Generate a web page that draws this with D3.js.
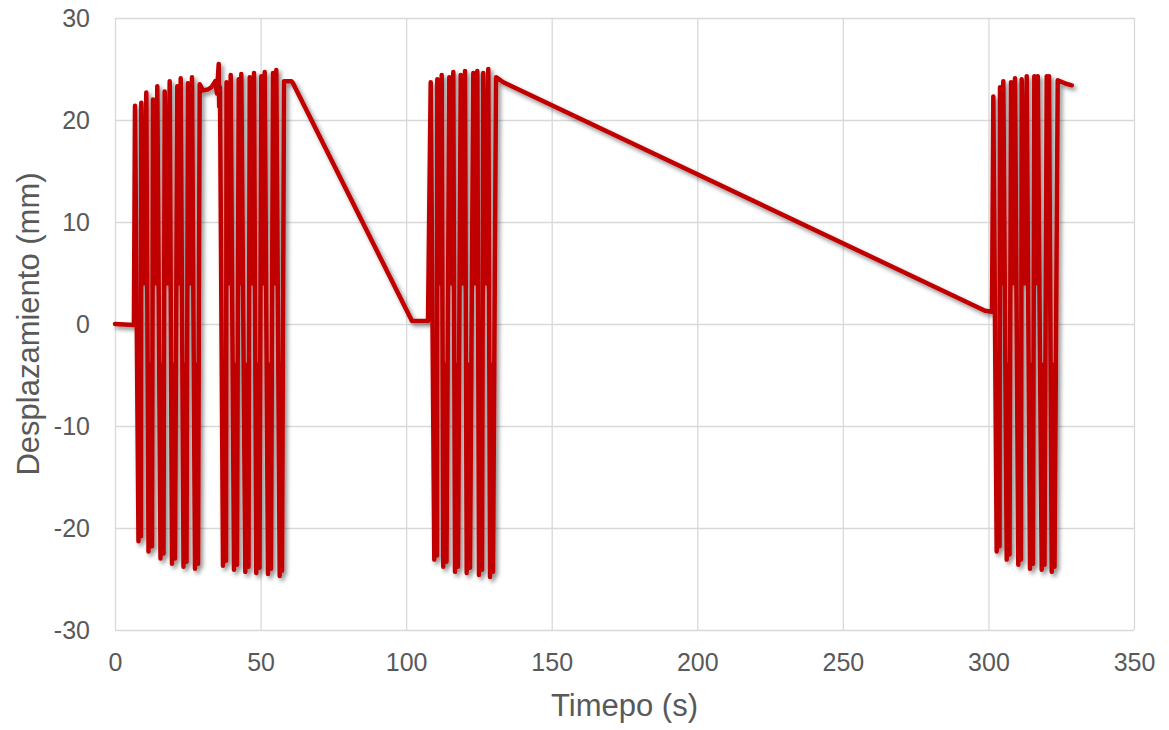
<!DOCTYPE html>
<html lang="es">
<head>
<meta charset="utf-8">
<script src="https://cdn.jsdelivr.net/npm/d3@7/dist/d3.min.js"></script>
<style>
  html, body { margin: 0; padding: 0; background: #ffffff; }
  svg { display: block; }
  .tick text { font-family: "Liberation Sans", Arial, sans-serif; font-size: 25px; fill: #595959; }
  .axis-title { font-family: "Liberation Sans", Arial, sans-serif; font-size: 31px; fill: #595959; }
</style>
</head>
<body>
<svg id="chart" width="1169" height="730"></svg>
<script>
// Ensayo cíclico: desplazamiento (mm) frente al tiempo (s), en cuatro tramos.
// Tramo 1: reposo inicial y primeros ciclos (0–36 s)
const tiempo1 = [0, 6.50, 6.87, 8.07, 8.52, 8.93, 9.03, 9.89, 10.75, 11.51, 12.09, 12.71, 13.05, 13.81, 14.53,
  15.63, 16.14, 16.66, 17.07, 17.93, 18.79, 19.58, 20.09, 20.61, 21.40, 21.98, 22.57, 23.53, 24.04, 24.56,
  25.07, 25.76, 26.45, 27.48, 27.99, 28.51, 29.09, 30.23, 31.94, 33.08, 34.45, 35.03, 35.62, 35.79, 36.06];
const desp1 = [0.0, -0.1, 21.4, -21.3, -4.0, -20.8, 21.7, 4.0, 22.7, -22.3, -4.0, -21.8, 22.0, 4.0, 23.3,
  -23.0, -4.0, -22.5, 22.8, 4.0, 23.8, -23.5, -4.0, -23.0, 23.3, 4.0, 24.1, -23.8, -4.0, -23.3,
  23.6, 4.0, 24.2, -24.0, -4.0, -23.5, 23.5, 22.9, 23.0, 23.2, 23.8, 22.6, 25.5, 21.3, 23.2];

// Tramo 2: segundo bloque de ciclos y descarga lenta (37–108 s)
const tiempo2 = [37.10, 37.61, 38.13, 38.30, 39.02, 39.74, 40.87, 41.39, 41.90, 42.49, 42.93, 43.38,
  44.76, 45.30, 45.85, 46.27, 47.02, 47.74, 48.53, 49.08, 49.63, 50.25, 50.83, 51.42, 52.55, 53.07, 53.58,
  54.27, 54.82, 55.40, 56.57, 57.02, 57.36, 58.05, 60.56, 61.14, 102.01, 107.51];
const desp2 = [-23.7, -4.0, -23.2, 23.7, 4.0, 24.4, -24.1, -4.0, -23.6, 24.0, 4.0, 24.5,
  -24.3, -4.0, -23.8, 24.2, 4.0, 24.6, -24.4, -4.0, -23.9, 24.3, 4.0, 24.7, -24.5, -4.0, -24.0,
  24.6, 4.0, 24.9, -24.7, -4.0, -24.2, 23.8, 23.8, 23.6, 0.3, 0.3];

// Tramo 3: tercer bloque de ciclos y descarga larga (108–301 s)
const tiempo3 = [108.44, 109.67, 110.15, 110.60, 110.70, 111.46, 112.21, 112.76, 113.31, 113.86, 114.82,
  115.51, 116.20, 116.78, 117.30, 117.81, 118.74, 119.46, 120.22, 120.80, 121.35, 121.93, 123.07, 123.75,
  124.44, 125.02, 125.54, 126.06, 126.50, 127.36, 128.22, 128.81, 129.32, 129.84, 130.87, 133.37, 298.83, 301.23];
const desp3 = [23.7, -23.1, -4.0, -22.7, 24.0, 4.0, 24.4, -23.8, -4.0, -23.3, 24.2,
  4.0, 24.7, -24.3, -4.0, -23.8, 24.4, 4.0, 24.8, -24.4, -4.0, -23.9, 24.6, 4.0,
  24.8, -24.6, -4.0, -24.1, 24.6, 4.0, 25.0, -24.8, -4.0, -24.3, 24.2, 23.7, 1.3, 1.2];

// Tramo 4: último bloque de ciclos (301–329 s)
const tiempo4 = [301.68, 302.84, 303.33, 303.81, 303.98, 304.57, 305.11, 306.28, 306.76, 307.24, 307.76,
  308.44, 309.13, 310.26, 310.74, 311.19, 311.43, 312.29, 313.15, 314.28, 314.80, 315.31, 315.76, 316.35,
  316.93, 318.30, 318.78, 319.26, 320.02, 320.43, 320.81, 321.74, 322.22, 322.70, 323.80, 326.30, 328.62];
const desp4 = [22.3, -22.3, -4.0, -21.8, 23.2, 4.0, 23.8, -23.1, -4.0, -22.6, 23.7,
  4.0, 24.1, -23.6, -4.0, -23.1, 24.0, 4.0, 24.3, -24.0, -4.0, -23.5, 24.3, 4.0,
  24.3, -24.1, -4.0, -23.6, 24.3, 4.0, 24.3, -24.3, -4.0, -23.8, 23.9, 23.6, 23.4];

// Marcas de los ejes
const xTicks = [0, 50, 100, 150, 200, 250, 300, 350];
const yTicks = [-30, -20, -10, 0, 10, 20, 30];

const tiempo = [...tiempo1, ...tiempo2, ...tiempo3, ...tiempo4];
const desplazamiento = [...desp1, ...desp2, ...desp3, ...desp4];
const serie = tiempo.map((t, i) => ({ t, d: desplazamiento[i] }));

const margin = { top: 18, right: 35, bottom: 100, left: 115 };
const width = 1169 - margin.left - margin.right;
const height = 730 - margin.top - margin.bottom;

// Etiquetas con guion simple para los negativos
const formato = d => String(d);

const svg = d3.select("#chart");

// Sombra suave bajo la curva
const defs = svg.append("defs");
const shadow = defs.append("filter").attr("id", "sombra")
  .attr("x", "-5%").attr("y", "-5%").attr("width", "110%").attr("height", "110%");
shadow.append("feDropShadow")
  .attr("dx", 2.5).attr("dy", 3).attr("stdDeviation", 2)
  .attr("flood-color", "#000000").attr("flood-opacity", 0.45);

const g = svg.append("g").attr("transform", `translate(${margin.left},${margin.top})`);

const x = d3.scaleLinear().domain([0, 350]).range([0, width]);
const y = d3.scaleLinear().domain([-30, 30]).range([height, 0]);

// Rejilla horizontal y etiquetas del eje Y
const yAxis = g.append("g")
  .call(d3.axisLeft(y).tickValues(yTicks).tickSize(-width).tickPadding(25).tickFormat(formato));
yAxis.select(".domain").remove();
yAxis.selectAll(".tick line").attr("stroke", "#d9d9d9").attr("stroke-width", 1.3);

// Rejilla vertical y etiquetas del eje X
const xAxis = g.append("g").attr("transform", `translate(0,${height})`)
  .call(d3.axisBottom(x).tickValues(xTicks).tickSize(-height).tickPadding(23).tickFormat(formato));
xAxis.select(".domain").remove();
xAxis.selectAll(".tick line").attr("stroke", "#d9d9d9").attr("stroke-width", 1.3);

// Curva de desplazamiento
const linea = d3.line().x(p => x(p.t)).y(p => y(p.d));
g.append("path")
  .datum(serie)
  .attr("d", linea)
  .attr("fill", "none")
  .attr("stroke", "#c00000")
  .attr("stroke-width", 4.5)
  .attr("stroke-linejoin", "round")
  .attr("stroke-linecap", "round")
  .attr("filter", "url(#sombra)");

// Títulos de los ejes
svg.append("text").attr("class", "axis-title")
  .attr("x", margin.left + width / 2).attr("y", 716)
  .attr("text-anchor", "middle")
  .text("Timepo (s)");

svg.append("text").attr("class", "axis-title")
  .attr("transform", `translate(39,${margin.top + height / 2}) rotate(-90)`)
  .attr("text-anchor", "middle")
  .text("Desplazamiento (mm)");
</script>
</body>
</html>
